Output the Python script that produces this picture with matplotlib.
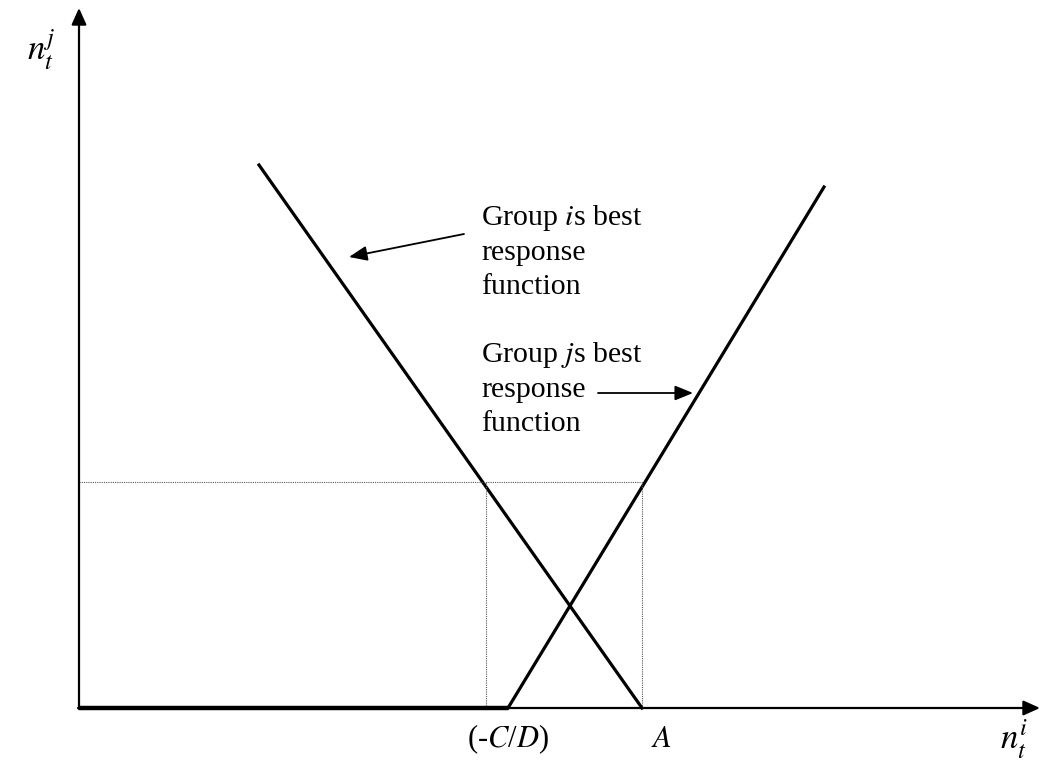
import matplotlib.pyplot as plt

plt.rcParams['font.family'] = ['Liberation Serif', 'DejaVu Serif']
plt.rcParams['mathtext.fontset'] = 'stix'

# diagram geometry, in picture units (x right, y down)
origin = (79, 708)
x_axis_end = 1040
y_axis_end = 8
thick_x = [79, 508]
line_i_x = [259, 642]
line_i_y = [165, 708]
line_j_x = [508, 824]
line_j_y = [708, 187]
guide_y = 482
guide_x = [486, 642]
arrow_i = [(464, 234), (349, 257)]
arrow_j = [(598, 393), (693, 393)]
label_i = ["Group $i$s best", "response", "function"]
label_j = ["Group $j$s best", "response", "function"]
label_i_y = [225, 260, 294]
label_j_y = [362, 397, 431]

fig = plt.figure(figsize=(10.42, 7.62), dpi=100)
ax = fig.add_axes([0, 0, 1, 1])
ax.set_xlim(0, 1042)
ax.set_ylim(762, 0)
ax.axis('off')

ox, oy = origin
# axes with arrows
ax.annotate('', xy=(x_axis_end, oy), xytext=(ox - 1, oy),
            arrowprops=dict(arrowstyle='-|>,head_length=1.0,head_width=0.45',
                            color='black', lw=1.6, shrinkA=0, shrinkB=0))
ax.annotate('', xy=(ox, y_axis_end), xytext=(ox, oy + 1),
            arrowprops=dict(arrowstyle='-|>,head_length=1.0,head_width=0.45',
                            color='black', lw=1.6, shrinkA=0, shrinkB=0))
ax.plot(thick_x, [oy, oy], color='black', lw=3.2, solid_capstyle='butt')

# best response lines
ax.plot(line_i_x, line_i_y, color='black', lw=2.3)
ax.plot(line_j_x, line_j_y, color='black', lw=2.3)

# dotted guides
ax.plot([ox, guide_x[1]], [guide_y, guide_y], color='#555555', lw=0.8, ls=(0, (1, 1)))
for gx in guide_x:
    ax.plot([gx, gx], [guide_y, oy], color='#555555', lw=0.8, ls=(0, (1, 1)))

# pointer arrows
for (start, end) in [arrow_i, arrow_j]:
    ax.annotate('', xy=end, xytext=start,
                arrowprops=dict(arrowstyle='-|>,head_length=1.1,head_width=0.45',
                                color='black', lw=1.3, shrinkA=0, shrinkB=0))

for txt, ty in zip(label_i, label_i_y):
    ax.text(481, ty, txt, fontsize=21.5, va='baseline', ha='left')
for txt, ty in zip(label_j, label_j_y):
    ax.text(481, ty, txt, fontsize=21.5, va='baseline', ha='left')

# axis labels
ax.text(508, 722, '(-$C$/$D$)', fontsize=22, ha='center', va='top')
ax.text(661, 725, '$A$', fontsize=22, ha='center', va='top')
ax.text(1014, 718, '$n_t^i$', fontsize=25, ha='center', va='top')
ax.text(41, 50, '$n_t^j$', fontsize=25, ha='center', va='center')

fig.savefig('out.png', dpi=100)
